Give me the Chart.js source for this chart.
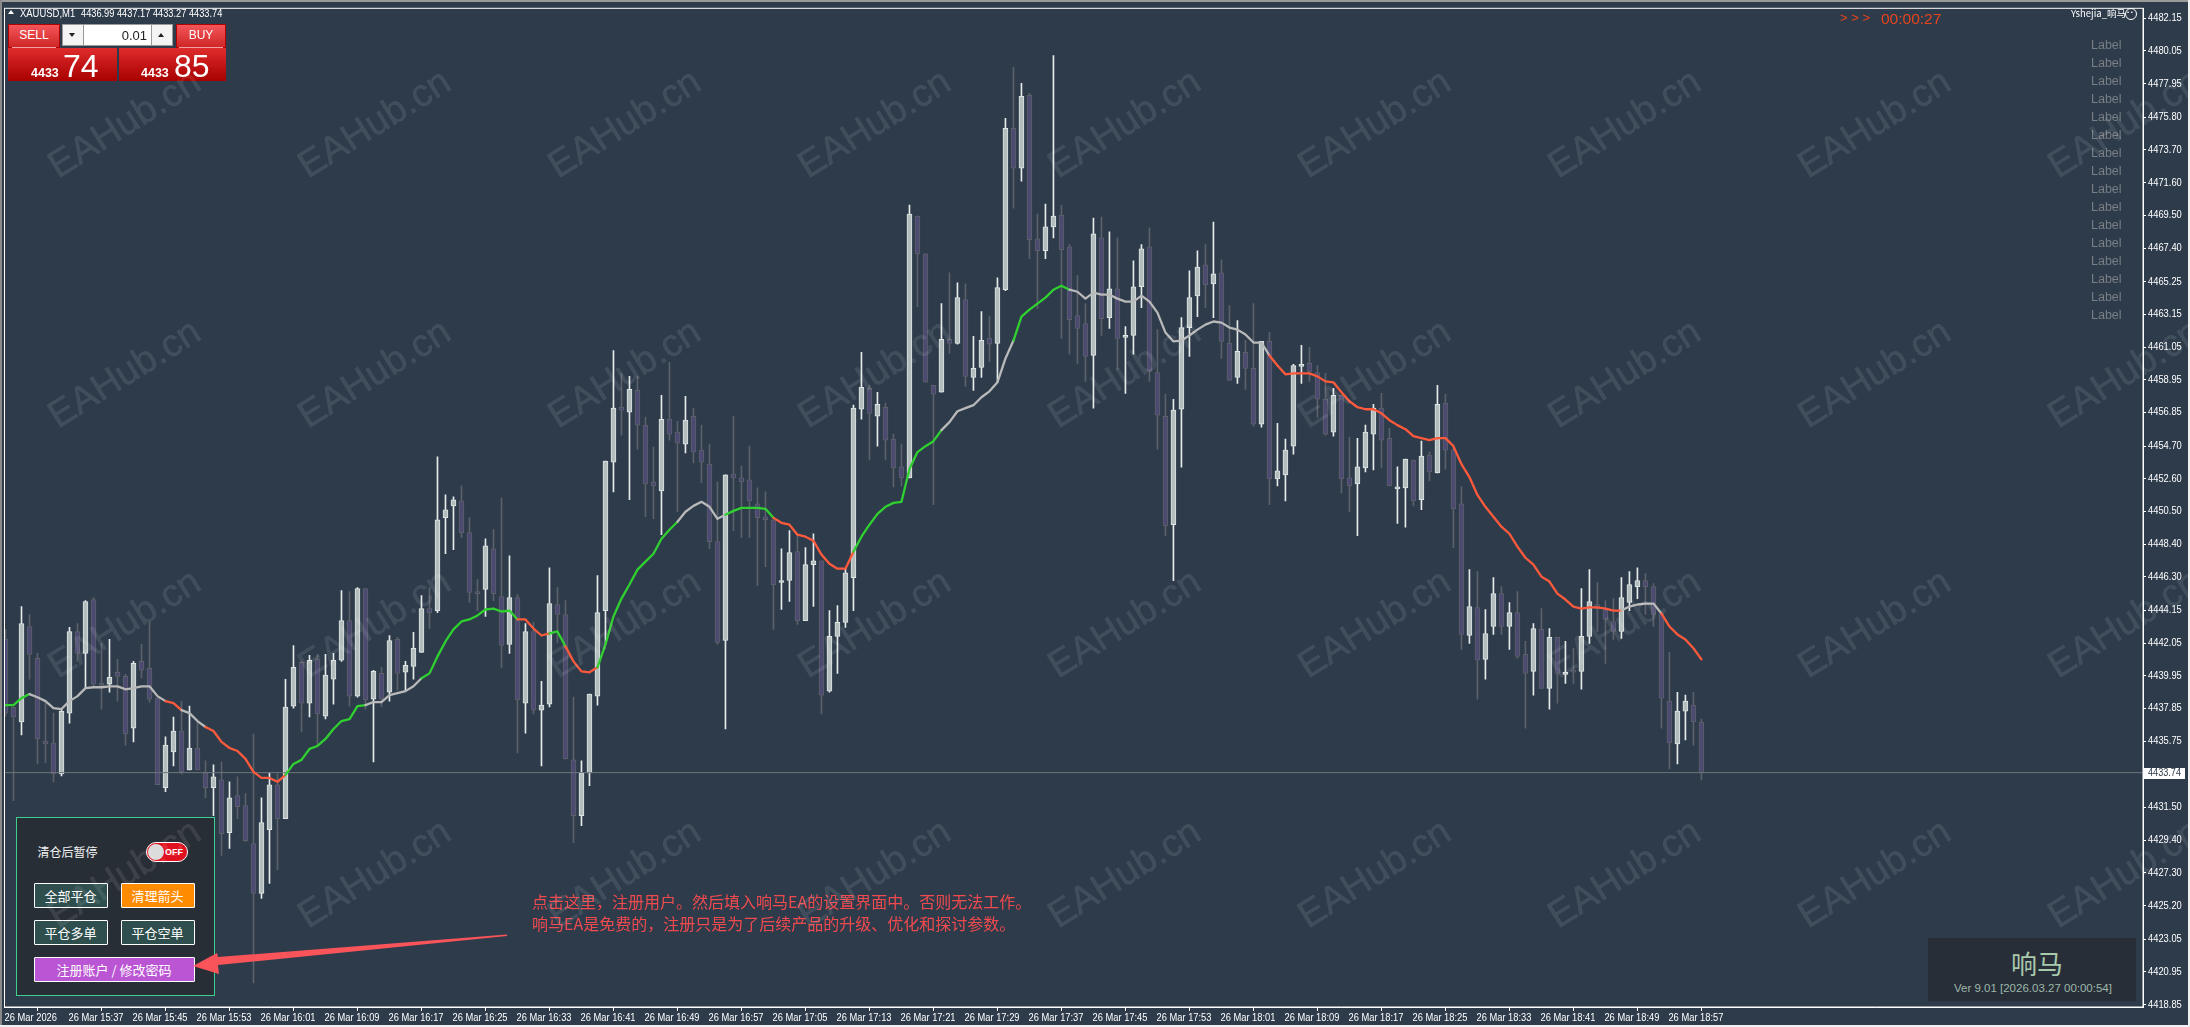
<!DOCTYPE html>
<html lang="zh-CN">
<head>
<meta charset="utf-8">
<title>XAUUSD,M1</title>
<script src="https://cdn.jsdelivr.net/npm/chart.js@4"></script>
<style>
html,body{margin:0;padding:0;width:2190px;height:1027px;overflow:hidden;background:#2d3b4b;}
#chartBox{position:absolute;left:0;top:0;width:2190px;height:1027px;}
.ui{position:absolute;white-space:nowrap;line-height:1;}
.sans{font-family:"Liberation Sans",Arial,sans-serif;}
.cjk{font-family:"Noto Sans CJK SC","Liberation Sans",sans-serif;}
.centered{display:flex;align-items:center;justify-content:center;box-sizing:border-box;}
.redBtn{background:linear-gradient(#f4565a,#cf2626);border:1px solid #b00000;box-sizing:border-box;color:#fff;}
.redPrice{background:linear-gradient(#df2c2c,#a80000);box-sizing:border-box;}
.panelBtn{box-sizing:border-box;border:1px solid #fff;border-radius:1px;color:#fff;font-size:13px;}
#wm span{position:absolute;font:38px "Liberation Sans",Arial,sans-serif;color:rgba(255,255,255,.095);transform:translate(-50%,-50%) rotate(-32deg);white-space:nowrap;-webkit-text-stroke:.6px rgba(255,255,255,.05);}
</style>
</head>
<body>
<div id="chartBox"><canvas id="c" width="2190" height="1027"></canvas></div>
<div id="ui"></div>
<script>
const opens=[4442.29,4437.95,4436.99,4443.12,4441.07,4435.77,4435.64,4433.66,4437.56,4442.80,
4441.39,4444.85,4439.47,4439.41,4440.18,4439.92,4436.60,4440.88,4440.43,4438.52,
4432.77,4435.07,4436.41,4433.92,4435.32,4433.72,4432.77,4433.28,4429.89,4432.26,
4431.62,4429.19,4425.99,4430.08,4432.96,4430.79,4438.01,4440.82,4438.20,4441.01,
4437.37,4439.73,4440.95,4443.50,4438.65,4445.55,4438.46,4440.11,4438.90,4442.29,
4440.18,4440.56,4441.46,4444.27,4444.14,4450.10,4450.86,4451.18,4449.14,4445.36,
4445.49,4448.11,4445.04,4441.97,4444.98,4438.20,4442.80,4437.75,4438.14,4444.53,
4443.89,4434.56,4430.98,4433.72,4438.65,4444.14,4453.67,4457.19,4456.87,4458.27,
4456.04,4452.40,4451.82,4456.42,4455.59,4454.82,4456.61,4454.44,4453.54,4448.56,
4442.22,4452.91,4452.66,4452.53,4450.99,4450.16,4449.97,4445.94,4446.07,4447.92,
4443.50,4447.09,4447.34,4438.97,4442.48,4443.38,4446.25,4457.06,4458.40,4456.61,
4457.19,4455.14,4453.36,4452.66,4469.46,4467.03,4458.59,4458.15,4461.55,4461.29,
4464.10,4459.10,4459.74,4461.61,4461.29,4464.73,4475.09,4472.53,4477.20,4468.00,
4467.23,4468.76,4469.52,4467.49,4463.07,4462.56,4460.52,4468.06,4462.94,4464.79,
4461.67,4461.80,4464.92,4467.49,4459.42,4456.61,4449.65,4457.06,4462.30,4464.34,
4466.32,4465.11,4465.82,4461.29,4459.10,4460.71,4459.68,4456.10,4461.42,4452.59,
4452.85,4454.69,4459.81,4460.00,4459.42,4457.70,4455.59,4457.96,4452.66,4452.27,
4453.29,4455.46,4457.13,4455.20,4451.95,4452.01,4453.80,4451.25,4454.12,4452.97,
4457.45,4454.44,4450.99,4442.54,4444.33,4441.01,4443.12,4445.23,4443.12,4444.01,
4441.33,4440.24,4442.93,4439.15,4442.42,4440.05,4440.24,4440.24,4442.48,4444.53,
4444.21,4443.44,4442.80,4444.66,4445.68,4446.07,4445.68,4443.95,4438.33,4435.58,
4437.69,4438.07,4436.99];
const closes=[4437.56,4437.31,4443.31,4441.33,4435.90,4435.58,4433.66,4437.69,4442.80,4441.39,
4444.72,4439.41,4439.34,4439.86,4439.92,4436.22,4440.75,4440.31,4438.46,4432.96,
4435.51,4436.41,4433.79,4435.32,4433.92,4432.77,4433.47,4429.83,4432.13,4431.56,
4429.38,4425.99,4430.53,4432.96,4430.79,4437.95,4440.50,4438.20,4440.95,4437.50,
4440.00,4440.95,4443.50,4438.65,4445.55,4438.40,4440.24,4438.46,4442.22,4440.11,
4440.62,4441.71,4444.27,4444.01,4449.97,4450.61,4451.25,4449.14,4445.30,4445.23,
4448.30,4445.23,4441.90,4444.98,4438.40,4442.80,4437.75,4438.07,4444.59,4443.89,
4434.62,4430.98,4433.72,4438.78,4444.01,4453.74,4457.13,4457.00,4458.34,4456.04,
4452.27,4452.14,4456.42,4455.46,4454.89,4456.36,4454.31,4453.67,4448.56,4442.10,
4452.85,4452.66,4452.40,4451.18,4450.10,4449.97,4445.81,4446.07,4447.86,4443.50,
4447.09,4447.34,4438.71,4442.48,4443.38,4446.57,4457.13,4458.46,4456.80,4457.38,
4455.07,4453.29,4452.66,4469.58,4467.03,4458.79,4458.02,4461.55,4461.29,4464.22,
4459.17,4459.68,4461.48,4461.23,4464.86,4475.09,4472.53,4477.14,4467.94,4467.23,
4468.76,4469.46,4467.30,4462.81,4462.24,4460.45,4468.32,4462.88,4464.79,4461.61,
4461.80,4464.92,4467.36,4459.49,4456.68,4449.58,4457.00,4462.30,4464.22,4466.19,
4465.05,4465.75,4461.42,4458.91,4460.77,4459.68,4456.10,4461.42,4452.59,4453.10,
4454.44,4459.87,4459.94,4459.49,4457.70,4455.46,4457.96,4452.59,4452.14,4453.36,
4455.59,4457.13,4455.07,4452.14,4452.01,4453.86,4451.18,4454.05,4453.03,4457.38,
4454.44,4450.67,4442.61,4444.40,4440.95,4442.67,4445.23,4443.12,4444.01,4441.20,
4440.11,4442.99,4439.15,4442.42,4440.11,4440.11,4440.18,4442.48,4444.72,4444.27,
4443.57,4442.80,4444.98,4445.81,4446.07,4445.68,4443.89,4438.52,4435.64,4437.69,
4438.33,4436.99,4433.74];
const highs=[4442.93,4437.95,4444.40,4443.89,4441.39,4438.20,4437.56,4437.82,4443.06,4443.31,
4444.78,4444.98,4442.03,4442.29,4441.01,4440.05,4440.88,4441.97,4443.44,4438.52,
4436.03,4437.31,4438.33,4438.01,4437.05,4434.49,4434.24,4434.43,4433.15,4433.47,
4432.39,4436.22,4432.13,4433.72,4433.66,4439.73,4441.90,4440.88,4441.26,4441.33,
4441.33,4441.39,4445.42,4445.36,4445.62,4445.55,4440.31,4440.50,4442.54,4442.42,
4440.88,4442.74,4445.10,4445.62,4454.00,4451.57,4451.44,4452.14,4450.10,4446.13,
4448.75,4449.33,4451.37,4447.66,4445.17,4443.31,4443.38,4439.60,4446.89,4445.62,
4444.78,4438.59,4434.49,4438.78,4446.38,4453.74,4460.83,4459.36,4459.17,4459.17,
4456.55,4454.63,4457.96,4460.07,4456.29,4457.89,4457.13,4456.04,4454.82,4452.40,
4452.85,4456.61,4453.42,4454.69,4452.02,4451.76,4449.97,4448.11,4449.27,4449.01,
4448.18,4449.07,4447.34,4444.14,4444.46,4446.83,4457.32,4460.71,4458.59,4458.15,
4457.45,4455.46,4454.82,4470.16,4469.46,4467.03,4458.59,4463.84,4465.82,4465.18,
4465.11,4461.74,4463.32,4463.00,4465.50,4475.73,4478.99,4477.97,4477.33,4469.59,
4470.23,4479.75,4470.16,4467.62,4465.63,4463.84,4469.33,4469.39,4468.44,4468.06,
4462.37,4466.58,4467.62,4468.70,4462.17,4458.02,4457.70,4462.94,4465.95,4467.23,
4467.62,4469.07,4466.65,4463.71,4462.75,4461.48,4463.84,4461.42,4462.00,4456.16,
4455.14,4459.94,4461.16,4461.03,4459.87,4459.36,4458.40,4457.96,4455.27,4455.20,
4456.04,4457.38,4458.08,4455.84,4453.36,4453.86,4453.80,4455.01,4454.31,4458.59,
4458.02,4454.76,4452.08,4446.77,4446.64,4444.21,4446.26,4445.68,4444.66,4445.36,
4442.16,4443.31,4444.27,4442.99,4442.42,4442.16,4441.71,4445.55,4446.77,4445.94,
4444.78,4444.91,4446.26,4446.64,4446.89,4446.51,4445.87,4443.95,4441.46,4438.90,
4438.71,4438.90,4437.17];
const lows=[4437.37,4431.94,4436.16,4439.73,4434.30,4434.36,4433.15,4433.53,4436.92,4440.88,
4439.15,4439.28,4437.82,4438.90,4438.33,4435.51,4435.71,4439.80,4438.27,4432.96,
4432.52,4434.17,4433.66,4433.92,4433.92,4432.13,4430.98,4428.42,4428.87,4430.79,
4429.32,4420.24,4425.67,4426.63,4427.52,4430.79,4437.88,4436.35,4437.31,4435.45,
4437.18,4438.14,4440.88,4438.01,4438.59,4437.82,4434.43,4437.95,4438.33,4439.03,
4438.97,4439.73,4441.46,4442.99,4444.01,4447.79,4448.05,4448.82,4444.66,4444.14,
4443.76,4444.78,4440.50,4441.39,4435.00,4436.28,4437.50,4434.17,4437.95,4442.10,
4434.62,4429.25,4430.34,4432.90,4438.07,4441.97,4451.76,4455.40,4451.25,4454.50,
4450.16,4450.03,4449.01,4455.07,4450.48,4454.25,4453.61,4452.34,4448.11,4441.97,
4436.54,4449.27,4448.82,4448.82,4445.74,4446.96,4442.93,4444.21,4444.72,4443.25,
4443.50,4444.40,4437.50,4438.90,4440.11,4443.06,4444.14,4456.42,4453.80,4454.69,
4453.80,4452.08,4452.14,4452.66,4463.64,4458.79,4450.93,4458.15,4460.65,4461.23,
4458.53,4458.27,4459.10,4460.13,4458.79,4464.67,4469.97,4471.70,4466.72,4463.51,
4466.72,4468.06,4461.61,4460.59,4460.00,4458.85,4457.13,4461.80,4462.24,4459.61,
4458.08,4460.59,4463.58,4458.85,4454.50,4448.95,4446.06,4453.35,4460.45,4463.00,
4463.58,4462.94,4460.32,4458.91,4458.72,4458.34,4455.97,4455.91,4450.93,4452.14,
4451.18,4454.18,4458.72,4458.85,4456.55,4455.40,4455.33,4451.69,4450.48,4448.95,
4453.03,4453.16,4453.29,4452.14,4449.74,4449.49,4450.86,4450.61,4452.46,4452.97,
4453.22,4448.18,4441.65,4442.03,4438.46,4439.73,4442.61,4442.61,4441.65,4441.07,
4436.60,4438.71,4439.15,4437.82,4438.20,4439.47,4439.47,4439.09,4442.03,4442.80,
4440.75,4442.29,4442.35,4444.14,4444.91,4443.89,4443.12,4436.60,4433.98,4434.30,
4435.84,4435.51,4433.27];
const maValues=[4438.07,4438.07,4438.52,4438.78,4438.58,4438.33,4437.88,4437.82,4438.33,4438.65,
4439.16,4439.22,4439.22,4439.28,4439.28,4439.09,4439.16,4439.28,4439.28,4438.65,
4438.33,4438.20,4437.75,4437.56,4437.05,4436.67,4436.41,4435.71,4435.32,4435.13,
4434.62,4433.79,4433.40,4433.40,4433.15,4433.60,4434.30,4434.56,4435.26,4435.45,
4435.90,4436.54,4437.05,4437.18,4438.01,4438.07,4438.27,4438.27,4438.71,4438.84,
4438.97,4439.28,4439.80,4440.11,4441.20,4442.16,4442.93,4443.44,4443.57,4443.83,
4444.21,4444.27,4444.08,4444.14,4443.57,4443.57,4442.99,4442.54,4442.67,4442.80,
4441.84,4440.88,4440.24,4440.18,4440.50,4441.97,4443.76,4444.91,4445.81,4446.77,
4447.28,4447.79,4448.75,4449.33,4449.84,4450.48,4450.86,4451.12,4450.80,4450.03,
4450.29,4450.54,4450.73,4450.73,4450.73,4450.67,4450.09,4449.77,4449.65,4449.01,
4448.88,4448.62,4447.73,4447.15,4446.83,4446.83,4447.92,4448.88,4449.65,4450.35,
4450.80,4451.05,4451.12,4453.22,4454.31,4454.69,4455.01,4455.72,4456.23,4456.93,
4457.13,4457.32,4457.83,4458.21,4458.79,4460.32,4461.47,4463.00,4463.45,4463.84,
4464.22,4464.73,4464.99,4464.73,4464.60,4464.16,4464.54,4464.41,4464.41,4464.16,
4463.97,4463.97,4464.35,4463.97,4463.26,4461.98,4461.41,4461.47,4461.79,4462.17,
4462.49,4462.69,4462.62,4462.30,4462.17,4461.86,4461.34,4461.34,4460.51,4459.87,
4459.30,4459.36,4459.36,4459.36,4459.17,4458.85,4458.79,4458.15,4457.57,4457.19,
4457.06,4457.06,4456.80,4456.36,4456.04,4455.78,4455.33,4455.21,4455.08,4455.21,
4455.21,4454.69,4453.54,4452.71,4451.56,4450.80,4450.16,4449.52,4449.07,4448.24,
4447.53,4447.09,4446.32,4446.00,4445.23,4444.85,4444.40,4444.27,4444.34,4444.34,
4444.27,4444.14,4444.14,4444.40,4444.53,4444.59,4444.59,4443.95,4443.12,4442.61,
4442.29,4441.72,4441.01];
const maRunEnds=[3,20,22,25,35,45,52,64,68,70,74,84,90,96,106,117,126,133,158,202,207,212];
const maRunTrend=["up","flat","down","flat","down","up","flat","up","down","up","down","up","flat","up","down","up","flat","up","flat","down","flat","down"];
const xTickLabels=["26 Mar 2026","26 Mar 15:37","26 Mar 15:45","26 Mar 15:53","26 Mar 16:01","26 Mar 16:09","26 Mar 16:17","26 Mar 16:25","26 Mar 16:33","26 Mar 16:41","26 Mar 16:49","26 Mar 16:57","26 Mar 17:05","26 Mar 17:13","26 Mar 17:21","26 Mar 17:29","26 Mar 17:37","26 Mar 17:45","26 Mar 17:53","26 Mar 18:01","26 Mar 18:09","26 Mar 18:17","26 Mar 18:25","26 Mar 18:33","26 Mar 18:41","26 Mar 18:49","26 Mar 18:57"];
const yTickValues=[4482.15,4480.05,4477.95,4475.80,4473.70,4471.60,4469.50,4467.40,4465.25,4463.15,4461.05,4458.95,4456.85,4454.70,4452.60,4450.50,4448.40,4446.30,4444.15,4442.05,4439.95,4437.85,4435.75,4431.50,4429.40,4427.30,4425.20,4423.05,4420.95,4418.85];
const currentPrice=4433.74;

const trendColor={up:"#2fd02f",flat:"#b9b9b9",down:"#ff5a3c"};
const UI_FONT='"Liberation Sans",Arial,sans-serif';
const isBull=i=>closes[i]>=opens[i];
function trendAt(i){for(let k=0;k<maRunEnds.length;k++){if(i<maRunEnds[k])return maRunTrend[k];}return maRunTrend[maRunTrend.length-1];}
const idx=opens.map((_,i)=>i);

/* The terminal's tick font is condensed; draw the axis labels horizontally squeezed. */
function condensedLabels(scale,factor,dx){
 if(scale._condensed)return;scale._condensed=true;
 const base=scale.drawLabels;
 scale.drawLabels=function(area){
  const c=this.ctx,orig=c.fillText;
  c.fillText=function(t,x,y){c.save();c.translate(x+dx,y);c.scale(factor,1);orig.call(c,t,0,0);c.restore();};
  base.call(this,area);
  delete c.fillText;
 };
}

const framePlugin={id:"frame",
 afterDatasetsDraw(ch){const a=ch.chartArea,c=ch.ctx;c.save();c.strokeStyle="#fff";c.lineWidth=1;c.strokeRect(a.left,a.top,a.right-a.left,a.bottom-a.top);
  const y=Math.round(ch.scales.y.getPixelForValue(currentPrice));
  c.fillStyle="#fff";c.fillRect(a.right+1,y-5,41,11);
  c.fillStyle="#2d3b4b";c.font="10.5px "+UI_FONT;c.textBaseline="middle";c.textAlign="left";c.translate(a.right+5,y+.5);c.scale(.87,1);c.fillText(currentPrice.toFixed(2),0,0);c.restore();}
};

new Chart(document.getElementById("c"),{
 type:"bar",
 plugins:[framePlugin],
 data:{datasets:[
  {type:"line",label:"MA",order:0,data:idx.map(i=>({x:i,y:maValues[i]})),borderWidth:2.3,pointRadius:0,tension:0,borderColor:"#b9b9b9",
   segment:{borderColor:s=>trendColor[trendAt(s.p0DataIndex)]},borderCapStyle:"round",borderJoinStyle:"round"},
  {type:"line",label:"Price",order:1,data:[{x:-0.125,y:currentPrice},{x:267.2,y:currentPrice}],borderWidth:1,borderColor:"#6f757b",pointRadius:0},
  {label:"Body",order:2,data:idx.map(i=>({x:i,y:[opens[i],closes[i]]})),barThickness:5,grouped:false,borderWidth:1,borderSkipped:false,minBarLength:2,
   backgroundColor:c=>isBull(c.dataIndex)?"#b4bdbd":"#4c4a72",borderColor:c=>isBull(c.dataIndex)?"#dfe4e4":"#5c6068"},
  {label:"Wick",order:3,data:idx.map(i=>({x:i,y:[lows[i],highs[i]]})),barThickness:1,grouped:false,borderWidth:0,
   backgroundColor:c=>isBull(c.dataIndex)?"#e6eaea":"#5c6068"}
 ]},
 options:{responsive:false,animation:false,devicePixelRatio:1,
  layout:{padding:{left:4.5,top:4.5,right:0,bottom:0}},
  plugins:{legend:{display:false},tooltip:{enabled:false},title:{display:false}},
  scales:{
   x:{type:"linear",offset:false,min:-0.125,max:267.2,
    afterBuildTicks:s=>{s.ticks=xTickLabels.map((_,k)=>({value:k*8}));condensedLabels(s,.89,-1);},
    afterFit:s=>{s.height=20;},
    grid:{drawOnChartArea:false,drawTicks:true,tickLength:4,color:"#fff"},
    border:{color:"#fff"},
    ticks:{autoSkip:false,maxRotation:0,minRotation:0,align:"start",padding:1,color:"#fff",font:{family:UI_FONT,size:10.5},callback:v=>xTickLabels[Math.round(v/8)]}
   },
   y:{type:"linear",position:"right",min:4418.70,max:4482.79,
    afterBuildTicks:s=>{s.ticks=yTickValues.map(v=>({value:v}));condensedLabels(s,.89,0);},
    afterFit:s=>{s.width=47;},
    grid:{drawOnChartArea:false,drawTicks:true,tickLength:3,color:"#fff"},
    border:{color:"#fff"},
    ticks:{autoSkip:false,padding:2,color:"#fff",font:{family:UI_FONT,size:10.5},callback:v=>Number(v).toFixed(2)}
   }
  }
 }
});

/* ---------- terminal widgets drawn as real text ---------- */
const ui=document.getElementById("ui");
function box(cls,l,t,w,h,html,style){const d=document.createElement("div");d.className="ui "+cls;d.style.left=l+"px";d.style.top=t+"px";if(w!=null)d.style.width=w+"px";if(h!=null)d.style.height=h+"px";if(style)d.style.cssText+=";"+style;if(html!=null)d.innerHTML=html;ui.appendChild(d);return d;}
// window edges
box("",0,0,2190,1.5,null,"background:#9a9a9a");
box("",0,0,1.5,1027,null,"background:#8a8a8a");
box("",0,1025,2190,2,null,"background:#f0f0f0");
box("",2188,0,2,1027,null,"background:#f0f0f0");
// title
box("",8,10,0,0,null,"border-left:3.5px solid transparent;border-right:3.5px solid transparent;border-bottom:4px solid #fff");
box("sans",20,7.5,null,null,"XAUUSD,M1","color:#fff;font-size:10.5px;transform:scaleX(.9);transform-origin:0 0");
box("sans",81,7.5,null,null,"4436.99 4437.17 4433.27 4433.74","color:#fff;font-size:10.5px;transform:scaleX(.88);transform-origin:0 0");
// one-click trading
box("redBtn sans centered",8,24,52,24,"SELL","font-size:12px;padding-bottom:3px");
box("",12,47,44,1,null,"background:#f3a0a0");
box("redBtn sans centered",176,24,50,24,"BUY","font-size:12px;padding-bottom:3px");
box("",179,47,44,1,null,"background:#f3a0a0");
box("",62,24,111,22,null,"background:#f4f4f4;border:1px solid #9a9a9a;box-sizing:border-box");
box("",83,25,1,20,null,"background:#9a9a9a");
box("",151,25,1,20,null,"background:#9a9a9a");
box("",69,33,0,0,null,"border-left:3.5px solid transparent;border-right:3.5px solid transparent;border-top:4px solid #222");
box("",158,33,0,0,null,"border-left:3.5px solid transparent;border-right:3.5px solid transparent;border-bottom:4px solid #222");
box("",84,25,67,20,null,"background:#fff");
box("sans",116,29,31,null,"0.01","color:#222;font-size:13px;text-align:right");
box("redPrice",8,48,109,33,null);
box("redPrice",119,48,107,33,null);
box("sans",31,67,null,null,"4433","color:#fff;font-size:12.5px;font-weight:bold");
box("sans",63,50,null,null,"74","color:#fff;font-size:32px");
box("sans",141,67,null,null,"4433","color:#fff;font-size:12.5px;font-weight:bold");
box("sans",174,50,null,null,"85","color:#fff;font-size:32px");
// countdown
box("sans",1840,11,null,null,">&nbsp;>&nbsp;>","color:#e8441c;font-size:13px");
box("sans",1881,11,null,null,"00:00:27","color:#e8441c;font-size:15.5px");
box("cjk",2071,9,null,null,"Yshejia_响马","color:#fff;font-size:9.5px");
box("",2125,8,12,12,null,"border:1px solid #fff;border-radius:50%;box-sizing:border-box");
box("sans",2127,9,null,null,"&#8226;&nbsp;&#8226;","color:#fff;font-size:6px");
for(let k=0;k<16;k++){box("sans",2091,39+k*18,null,null,"Label","color:#7a7f85;font-size:12.5px");}
// version badge
box("",1928,938,208,63,null,"background:#282e38");
box("cjk",2011,950,null,null,"响马","color:#a9c9ac;font-size:26px");
box("sans",1954,983,null,null,"Ver 9.01 [2026.03.27 00:00:54]","color:#9cb8a8;font-size:11.5px");
// control panel
box("",15.5,817,199,179,null,"background:#282e36;border:1px solid #3fcf8e;box-sizing:border-box");
box("cjk",37.5,846,null,null,"清仓后暂停","color:#f2f2f2;font-size:12px");
box("",146,842,42,20,null,"background:#e0111f;border:1.5px solid #fff;border-radius:10px;box-sizing:border-box");
box("",148,844,16,16,null,"background:#dcdcdc;border-radius:50%");
box("sans",165,847.5,null,null,"OFF","color:#fff;font-size:9px;font-weight:bold");
const btn=(t,l,tp,w,bg)=>box("panelBtn cjk centered",l,tp,w,25,t,"background:"+bg);
btn("全部平仓",33.5,883,74,"#2f4f4f");
btn("清理箭头",120.5,883,74,"#ff8c00");
btn("平仓多单",33.5,920,74,"#2f4f4f");
btn("平仓空单",120.5,920,74,"#2f4f4f");
btn("注册账户 / 修改密码",33.5,957,161,"#ba55d3");
// annotation
box("cjk",532,893,null,null,"点击这里，注册用户。然后填入响马EA的设置界面中。否则无法工作。","color:#f04a4e;font-size:16px");
box("cjk",532,915,null,null,"响马EA是免费的，注册只是为了后续产品的升级、优化和探讨参数。","color:#f04a4e;font-size:16px");
const svgNS="http://www.w3.org/2000/svg";
const svg=document.createElementNS(svgNS,"svg");svg.setAttribute("width","2190");svg.setAttribute("height","1027");svg.style.cssText="position:absolute;left:0;top:0";
const arrow=document.createElementNS(svgNS,"polygon");arrow.setAttribute("points","507,934.5 218,957 217,953 193,966 219,974 218,965 507,936");arrow.setAttribute("fill","#f9545a");svg.appendChild(arrow);ui.appendChild(svg);
// watermark
const wm=document.createElement("div");wm.id="wm";wm.style.cssText="position:absolute;left:0;top:0;width:2190px;height:1027px;overflow:hidden";
for(let r=0;r<4;r++){for(let k=0;k<9;k++){const s=document.createElement("span");s.textContent="EAHub.cn";s.style.left=(124+250*k)+"px";s.style.top=(123+250*r)+"px";wm.appendChild(s);}}
ui.appendChild(wm);
</script>
</body>
</html>
